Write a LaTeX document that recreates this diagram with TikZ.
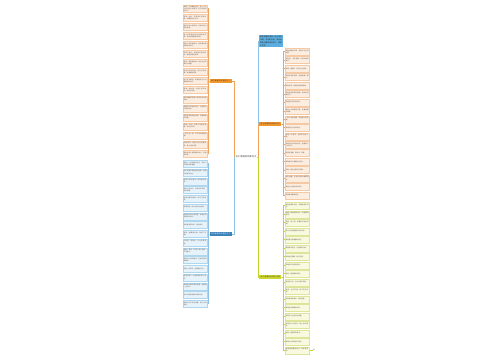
\documentclass[tikz,border=0pt]{standalone}
\usepackage{fontspec}
\newfontfamily\cjk{Noto Sans CJK SC}
\XeTeXlinebreaklocale "zh"
\XeTeXlinebreakskip=0pt plus 1pt
\definecolor{oL}{HTML}{F2A35A}
\definecolor{oF}{HTML}{FCEDE1}
\definecolor{oB}{HTML}{F4C9A4}
\definecolor{oN}{HTML}{F0962F}
\definecolor{bL}{HTML}{8CC3E6}
\definecolor{bF}{HTML}{E7F3FB}
\definecolor{bB}{HTML}{AFD6EF}
\definecolor{bN}{HTML}{3E83B8}
\definecolor{tN}{HTML}{5CAEE0}
\definecolor{yL}{HTML}{C4D32A}
\definecolor{yF}{HTML}{F7FADF}
\definecolor{yB}{HTML}{DCE59A}
\definecolor{yN}{HTML}{CBD730}
\definecolor{txt}{HTML}{6B5A4C}
\tikzset{
  leafbox/.style={anchor=north west, text width=23pt, minimum height=7pt, inner sep=0.7pt,
     font=\cjk\fontsize{1.55}{2.05}\selectfont, align=left, text=txt, line width=0.3pt},
  leafO/.style={leafbox, fill=oF, draw=oB},
  leafB/.style={leafbox, fill=bF, draw=bB},
  leafY/.style={leafbox, fill=yF, draw=yB},
  branch/.style={text width=21pt, inner sep=0.6pt, minimum height=3.4pt,
     font=\cjk\fontsize{1.7}{2}\selectfont, align=center},
  conn/.style={line width=0.45pt}
}
\begin{document}
\begin{tikzpicture}[x=1pt,y=-1pt]
\fill[white] (0,0) rectangle (500,360);
\useasboundingbox (0,0) rectangle (500,360);

% center
\node[font=\cjk\fontsize{2.3}{2.6}\selectfont, inner sep=0.5pt, text=black!75] (c) at (246,157) {关于家庭的优美句子};

% level-1 nodes
\node[branch, fill=oN, text=black!80, anchor=east] (lo) at (232,81) {关于家庭的优美句子一};
\node[branch, fill=bN, text=white, anchor=east] (lb) at (232,234) {关于家庭的优美句子二};
\node[branch, fill=tN, text=black!85, anchor=north west, text width=22pt, align=left,
      font=\cjk\fontsize{1.8}{2.9}\selectfont, inner sep=0.9pt] (tb) at (259,35)
      {家是温暖的港湾，是心灵的归宿，无论走多远，家永远是我们最牵挂的地方，愿家人平安。};
\node[branch, fill=oN, text=black!80, anchor=west] (ro) at (259,124) {关于家庭的优美句子三};
\node[branch, fill=yN, text=black!80, anchor=west] (ry) at (259,277) {关于家庭的优美句子四};

% center connectors
\draw[conn, oL] (c.west) -- ++(-1,0) |- (lo.east);
\draw[conn, bL] (c.west) -- ++(-1,0) |- (lb.east);
\draw[conn, bL] (c.east) -- ++(1,0) |- (tb.west);
\draw[conn, oL] (c.east) -- ++(1,0) |- (ro.west);
\draw[conn, yL] (c.east) -- ++(1,0) |- (ry.west);

% left orange leaves
\foreach \t [count=\i from 0] in {
 家是一个温暖的地方，是一个让人感到安心的港湾，无论外面风雨多大。,
 家是一盏灯，照亮我们回家的路，温暖我们的心灵。,
 有家的地方就有爱，有爱的地方就有幸福。,
 家人的笑容是世界上最美的风景，家的味道是最难忘的。,
 家是心灵的栖息地，是疲惫时最想回去的地方。,
 家和万事兴，和睦是家庭的根本，爱是家庭的灵魂。,
 家是一首温馨的歌，唱出生活的美好与甜蜜。,
 家是父母的怀抱，是永远的依靠，是温暖的港湾。,
 无论走到哪里，家都是我们心中最柔软的地方。,
 家是一棵大树，为我们遮风挡雨，给我们阴凉。,
 家的温暖来自每个成员的付出和关爱。,
 家是我们出发的地方，也是我们归来的地方。,
 家里有爸爸妈妈的爱，有最真挚的亲情。,
 家是一本书，写满了亲情与温暖，读也读不完。,
 一家人在一起，平平淡淡就是幸福。,
 家是港湾，是我们永远的避风港，是心灵的归宿。,
 家是世界上最温暖的地方，有爱就有家。}
{
  \pgfmathsetmacro\yy{5+9.05*\i}
  \node[leafO] (lo\i) at (183,\yy) {\t};
  \draw[conn, oL] (lo.west) -- ++(-1.2,0) |- (lo\i.east);
}

% left blue leaves
\foreach \t [count=\i from 0] in {
 家是一个充满爱的地方，有亲人的陪伴就有温暖。,
 家人是我们最坚强的后盾，是我们前进的动力。,
 家是心灵的港湾，是幸福的源泉。,
 有家人的地方，就有欢声笑语，就有温暖。,
 家是温暖的被窝，是可口的饭菜。,
 家庭和睦，是人生最大的财富。,
 家是我们成长的摇篮，是我们梦想起航的地方。,
 家的爱是无私的，是永恒的。,
 家是一幅美丽的画，画满了亲情。,
 父母在，家就在，人生尚有来处。,
 家是一首诗，写满了爱与温情，字字暖心。,
 有家的人是幸福的，有爱的家是温暖的。,
 家是一杯热茶，温暖我们的心。,
 家里的每一个角落都充满了回忆。,
 家是我们最珍贵的宝藏，值得用一生守护。,
 家人的陪伴是最长情的告白。,
 家是永远不变的温暖，是心中的牵挂。}
{
  \pgfmathsetmacro\yy{160+8.75*\i}
  \node[leafB] (lb\i) at (183,\yy) {\t};
  \draw[conn, bL] (lb.west) -- ++(-1.2,0) |- (lb\i.east);
}

% right orange leaves
\foreach \t [count=\i from 0] in {
 家是温暖的港湾，是我们永远的依靠。,
 家有爱，才有温暖，才有幸福和快乐。,
 家是一盏明灯，照亮人生的路。,
 家是亲情的纽带，连接着每一颗心。,
 家的味道，是妈妈做的饭菜香。,
 家是爸爸宽厚的肩膀，是妈妈温柔的手。,
 家是我们快乐的源泉。,
 家是心中最美的风景，是最温暖的角落。,
 一家人相亲相爱，就是最大的幸福。,
 家是我们永远的牵挂。,
 家是一片蓝天，任我们自由飞翔。,
 家是我们共同的责任，需要每个人去守护。,
 家里有温暖，有关怀，有爱。,
 家是世界上最美好的地方。,
 家是一首永远唱不完的歌。,
 家的温馨，让我们感到幸福和满足。,
 家是人生的起点和终点。,
 家是最温暖的怀抱。}
{
  \pgfmathsetmacro\yy{48+8.45*\i}
  \node[leafO] (ro\i) at (285,\yy) {\t};
  \draw[conn, oL] (ro.east) -- ++(1.2,0) |- (ro\i.west);
}

% right yellow leaves
\foreach \t [count=\i from 0] in {
 家是温暖的阳光，照耀着我们成长。,
 家是心灵休憩的地方，是温暖的港湾。,
 家是一条小船，载着我们驶向幸福。,
 家人的关爱是最珍贵的礼物。,
 家是我们最温馨的回忆。,
 家是爱的起点，也是爱的归宿。,
 家是相互理解，相互包容。,
 家是我们共同的梦想。,
 家是一首温暖的诗篇。,
 家里的灯光，永远为我们亮着。,
 家是一生的守候，是不变的承诺。,
 家是幸福的源泉，爱的摇篮。,
 家是我们最美的归宿。,
 家是平凡生活中的温暖。,
 家是亲人的陪伴，是心灵的寄托。,
 家是一座避风的港湾。,
 家是永远的牵挂与思念。,
 家是最温暖的地方，有爱就有家。}
{
  \pgfmathsetmacro\yy{202+8.5*\i}
  \node[leafY] (ry\i) at (285,\yy) {\t};
  \draw[conn, yL] (ry.east) -- ++(1.2,0) |- (ry\i.west);
}

% small trailing node
\node[anchor=west, inner sep=0.3pt, font=\cjk\fontsize{1.5}{1.8}\selectfont, text=black!60] (ex) at ([xshift=3pt]ry17.east) {家};
\draw[conn, yL] (ry17.east) -- (ex.west);
\end{tikzpicture}
\end{document}
